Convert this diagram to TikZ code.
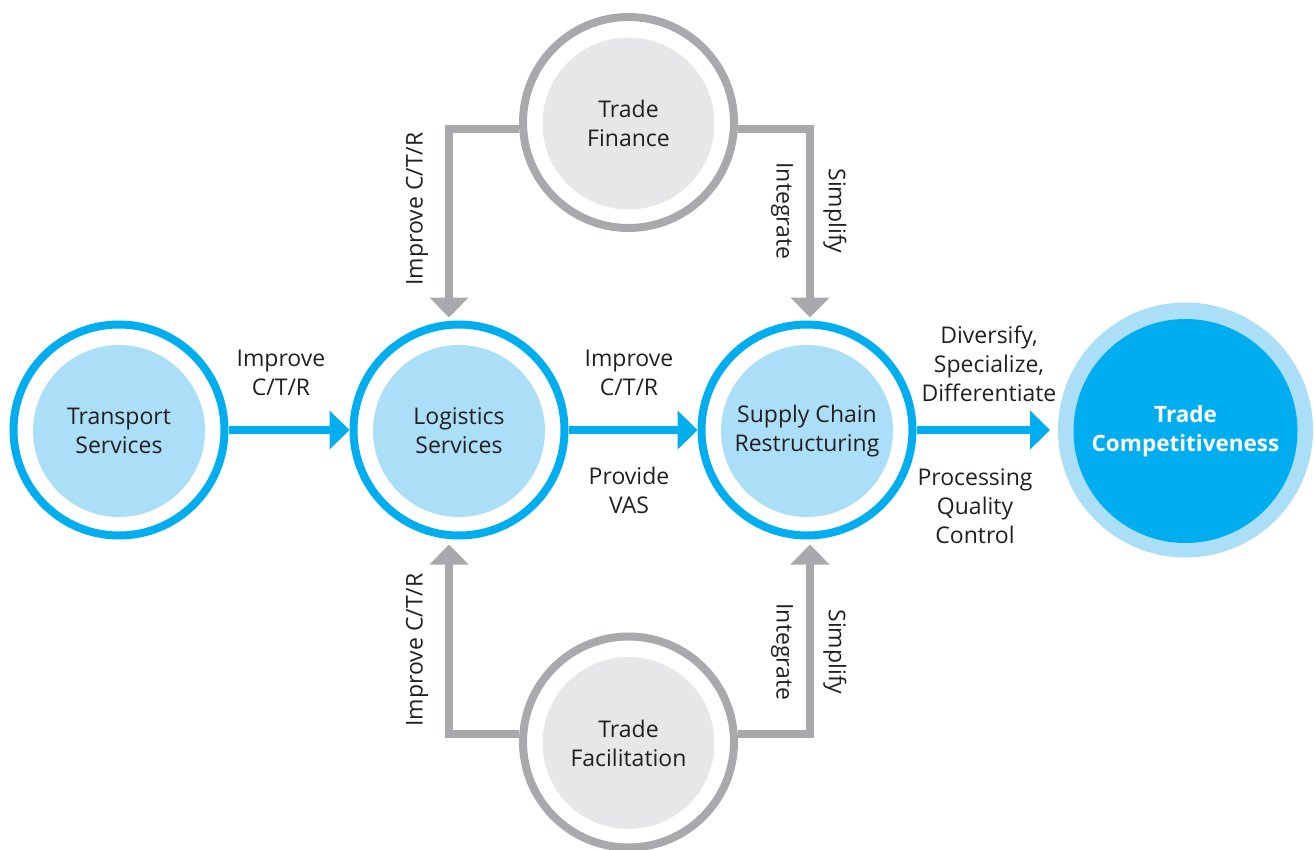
\documentclass[tikz,border=0pt]{standalone}
\usepackage{fontspec}
\setmainfont{Open Sans}
\usetikzlibrary{arrows.meta}
\definecolor{cblue}{RGB}{0,174,239}
\definecolor{clblue}{RGB}{171,223,248}
\definecolor{cgray}{RGB}{167,169,172}
\definecolor{clgray}{RGB}{230,231,232}
\definecolor{ctext}{RGB}{35,31,32}
\begin{document}
\begin{tikzpicture}[x=1pt,y=-1pt,
 ring/.style={circle,draw=#1,line width=8pt,fill=white,minimum size=211pt,inner sep=0pt,outer sep=4pt},
 core/.style={circle,fill=#1,minimum size=172pt,inner sep=0pt,text=ctext,align=center,font=\fontsize{23}{29}\selectfont},
 lbl/.style={text=ctext,align=center,font=\fontsize{23}{29}\selectfont,inner sep=0pt},
 barrow/.style={draw=cblue,line width=8pt,-{Triangle[length=20pt,width=38pt]}},
 garrow/.style={draw=cgray,line width=8pt,-{Triangle[length=20pt,width=38pt]}}]
\useasboundingbox (0,0) rectangle (1314,849);
% circles
\node[ring=cblue] (ts) at (119,430) {};
\node[core=clblue] (tsi) at (119,431) {Transport\\Services};
\node[ring=cblue] (ls) at (459,430) {};
\node[core=clblue] (lsi) at (459,431) {Logistics\\Services};
\node[ring=cblue] (sc) at (807,430) {};
\node[core=clblue] (sci) at (807,431) {Supply Chain\\Restructuring};
\node[ring=cgray] (tf) at (628.5,122.5) {};
\node[core=clgray] (tfi) at (628.5,123.5) {Trade\\Finance};
\node[ring=cgray] (tfa) at (628.5,742) {};
\node[core=clgray] (tfai) at (628.5,743) {Trade\\Facilitation};
\node[circle,fill=clblue,minimum size=255pt,inner sep=0pt,outer sep=0pt] (tc) at (1185.5,430) {};
\node[circle,fill=cblue,minimum size=224pt,inner sep=0pt,text=white,align=center,font=\fontsize{22.5}{29}\selectfont\bfseries] (tci) at (1185.5,431) {Trade\\Competitiveness};
% blue arrows
\draw[barrow] (ts.east) -- (ls.west);
\draw[barrow] (ls.east) -- (sc.west);
\draw[barrow] (sc.east) -- ([xshift=-8pt]tc.west);
% gray elbow arrows
\draw[garrow] ([yshift=-6pt]tf.west) -| ([xshift=-10pt,yshift=3pt]ls.north);
\draw[garrow] ([yshift=-6pt]tf.east) -| ([xshift=3pt,yshift=3pt]sc.north);
\draw[garrow] ([yshift=8.5pt]tfa.west) -| ([xshift=-10pt,yshift=-5pt]ls.south);
\draw[garrow] ([yshift=8.5pt]tfa.east) -| ([xshift=3pt,yshift=-5pt]sc.south);
% labels
\node[lbl] (l1) at (281,373) {Improve\\C/T/R};
\node[lbl] (l2) at (629,373) {Improve\\C/T/R};
\node[lbl] (l3) at (629,490) {Provide\\VAS};
\node[lbl] (l4) at (989,364) {Diversify,\\Specialize,\\Differentiate};
\node[lbl] (l5) at (975,506) {Processing\\Quality\\Control};
\node[lbl,rotate=90] (l6) at (417,209) {Improve C/T/R};
\node[lbl,rotate=-90] (l7) at (782,211) {Integrate};
\node[lbl,rotate=-90] (l8) at (835,211) {Simplify};
\node[lbl,rotate=90] (l9) at (417,650) {Improve C/T/R};
\node[lbl,rotate=-90] (l10) at (782,652) {Integrate};
\node[lbl,rotate=-90] (l11) at (835,652) {Simplify};
\end{tikzpicture}
\end{document}
